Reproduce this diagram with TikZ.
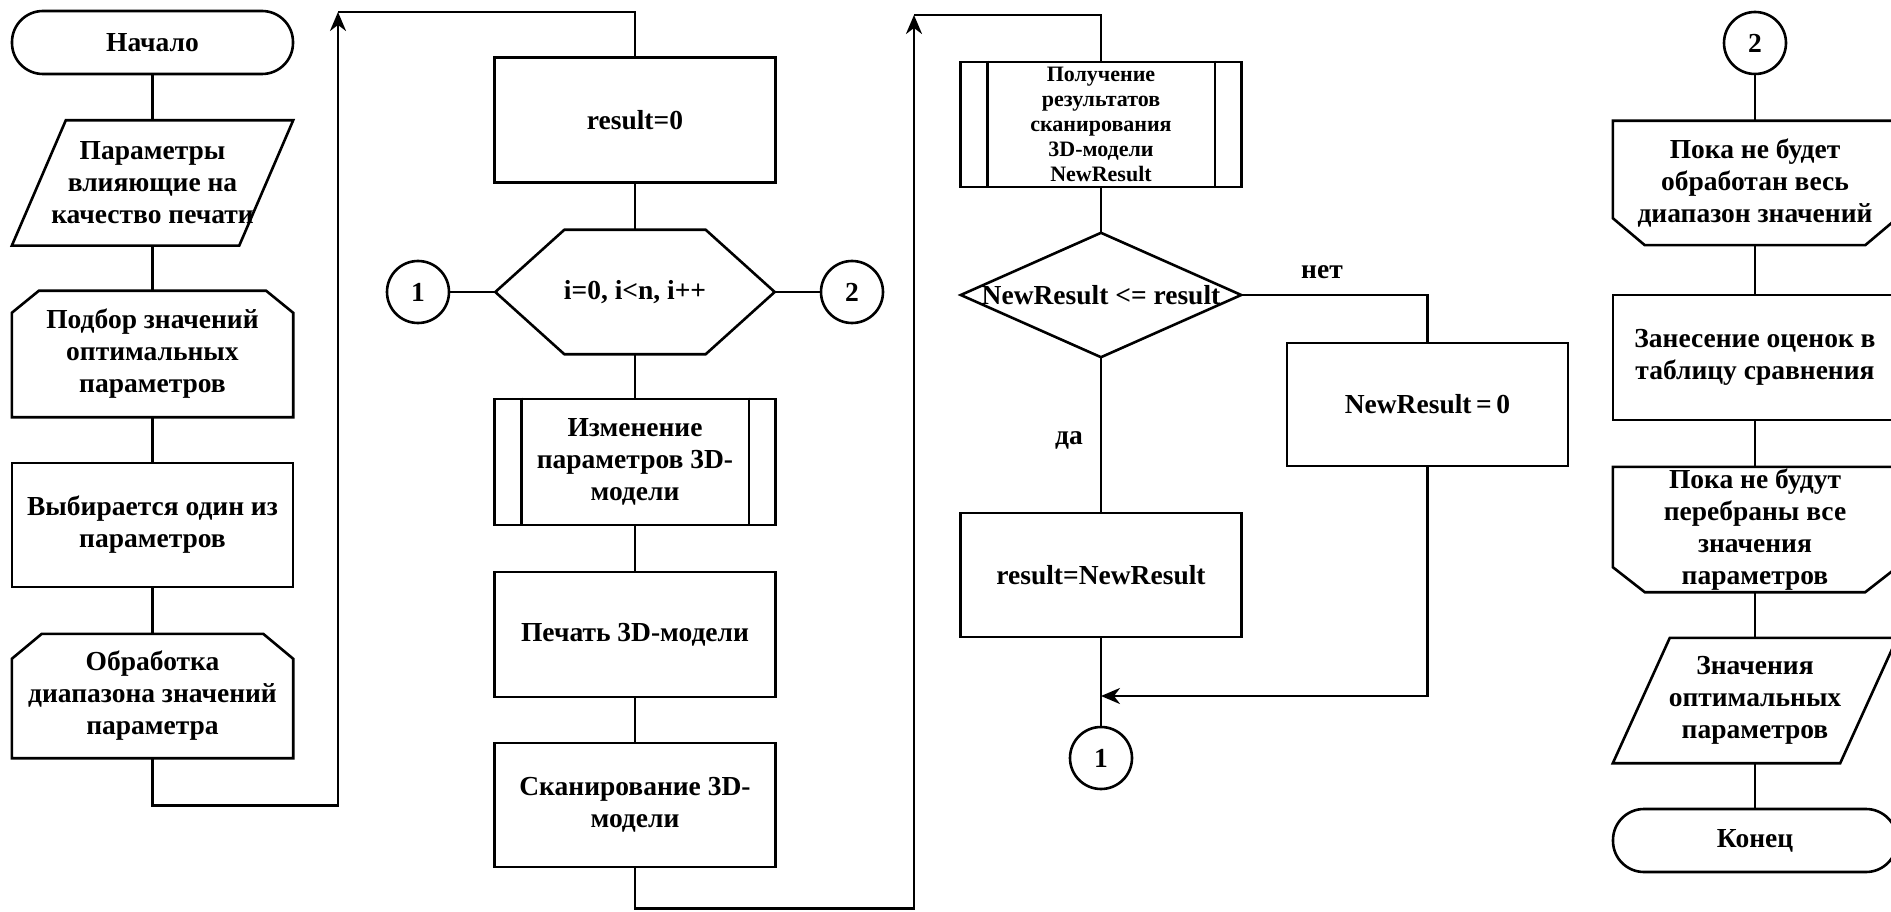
\documentclass[tikz,border=0pt]{standalone}
\usepackage{fontspec}
\setmainfont{Liberation Serif}
\usetikzlibrary{calc,arrows.meta}

\tikzset{
  ln/.style={line width=2.6pt, line join=miter},
  flow/.style={ln, -{Stealth[length=19pt,width=16pt,inset=6pt]}},
  txt/.style={font=\bfseries\fontsize{27.5}{32}\selectfont, align=center, inner sep=0pt},
  small/.style={font=\bfseries\fontsize{22}{25}\selectfont},
  shapebox/.style={txt, rectangle, minimum width=281pt, minimum height=125pt},
  procbox/.style={shapebox, draw, ln},
  term/.style={txt, draw, ln, rectangle, rounded corners=31pt, minimum width=281pt, minimum height=63pt},
  conn/.style={txt, draw, ln, circle, minimum size=62pt},
  lbl/.style={txt},
}

\begin{document}
\begin{tikzpicture}[x=1pt, y=-1pt]
\useasboundingbox (0,0) rectangle (1891,912);
\fill[white] (0,0) rectangle (1891,912);
\clip (0,0) rectangle (1891,912);

% ---------- column 1: preparation ----------
\node[term] (start) at (152.5,42.5) {Начало};
\node[shapebox] (par1) at (152.5,183) {Параметры\\влияющие на\\качество печати};
\node[shapebox, minimum height=126pt] (pod) at (152.5,354) {Подбор значений\\оптимальных\\параметров};
\node[procbox, minimum height=124pt] (vyb) at (152.5,525) {Выбирается один из\\параметров};
\node[shapebox, minimum height=124pt] (obr) at (152.5,696) {Обработка\\диапазона значений\\параметра};

% parallelogram (input data)
\draw[ln] ($(par1.north west)+(54,0)$) -- (par1.north east)
  -- ($(par1.south east)-(54,0)$) -- (par1.south west) -- cycle;
% loop begin (chamfered top corners)
\draw[ln] (pod.south west) -- ($(pod.north west)+(0,22)$) -- ($(pod.north west)+(27,0)$)
  -- ($(pod.north east)-(27,0)$) -- ($(pod.north east)+(0,22)$) -- (pod.south east) -- cycle;
\draw[ln] (obr.south west) -- ($(obr.north west)+(0,25)$) -- ($(obr.north west)+(30,0)$)
  -- ($(obr.north east)-(30,0)$) -- ($(obr.north east)+(0,25)$) -- (obr.south east) -- cycle;

\draw[ln] (start.south) -- (par1.north);
\draw[ln] (par1.south) -- (pod.north);
\draw[ln] (pod.south) -- (vyb.north);
\draw[ln] (vyb.south) -- (obr.north);

% ---------- column 2: loop over i ----------
\node[procbox] (res0) at (635,120) {result=0};
\node[shapebox, minimum width=279pt, minimum height=124pt] (hex) at (635,292) {i=0, i<n, i++};
\node[conn] (c1a) at (418,292) {1};
\node[conn] (c2a) at (852,292) {2};
\node[procbox, minimum height=126pt] (izm) at (635,462) {Изменение\\параметров 3D-\\модели};
\node[procbox] (pech) at (635,634.5) {Печать 3D-модели};
\node[procbox, minimum height=124pt] (scan) at (635,805) {Сканирование 3D-\\модели};

\draw[ln] (hex.west) -- ($(hex.north west)+(69,0)$) -- ($(hex.north east)-(69,0)$)
  -- (hex.east) -- ($(hex.south east)-(69,0)$) -- ($(hex.south west)+(69,0)$) -- cycle;
\draw[ln] ($(izm.north west)+(28,0)$) -- ($(izm.south west)+(28,0)$);
\draw[ln] ($(izm.north east)-(28,0)$) -- ($(izm.south east)-(28,0)$);

\draw[ln] (res0.south) -- (hex.north);
\draw[ln] (c1a.east) -- (hex.west);
\draw[ln] (hex.east) -- (c2a.west);
\draw[ln] (hex.south) -- (izm.north);
\draw[ln] (izm.south) -- (pech.north);
\draw[ln] (pech.south) -- (scan.north);

% transfer from column 1 to column 2
\coordinate (up1) at (338,12);
\draw[flow] (obr.south) -- ++(0,47) -| (up1);
\draw[ln] (up1) -| (res0.north);

% ---------- column 3: comparison ----------
\node[procbox] (pol) at (1101,124.5) {};
\node[small, align=center, inner sep=0pt] (poltxt) at (pol.center) {Получение\\результатов\\сканирования\\3D-модели\\NewResult};
\draw[ln] ($(pol.north west)+(28,0)$) -- ($(pol.south west)+(28,0)$);
\draw[ln] ($(pol.north east)-(28,0)$) -- ($(pol.south east)-(28,0)$);

\node[shapebox, minimum width=280pt, minimum height=124pt] (dia) at (1101,295) {NewResult <= result};
\draw[ln] (dia.west) -- (dia.north) -- (dia.east) -- (dia.south) -- cycle;

\node[procbox, minimum height=123pt] (nr0) at (1427.5,404.5) {NewResult\,=\,0};
\node[procbox, minimum height=124pt] (rnr) at (1101,575) {result=NewResult};
\node[conn] (c1b) at (1101,758) {1};
\node[lbl] (no) at (1322,272) {нет};
\node[lbl] (yes) at (1069,440) {да};

\draw[ln] (pol.south) -- (dia.north);
\draw[ln] (dia.east) -| (nr0.north);
\draw[ln] (dia.south) -- (rnr.north);
\draw[ln] (rnr.south) -- (c1b.north);
\coordinate (mrg) at (1101,696);
\draw[flow] (nr0.south) |- (mrg);

% transfer from column 2 to column 3
\coordinate (up2) at (914,15);
\draw[flow] (scan.south) -- ++(0,40) -| (up2);
\draw[ln] (up2) -| (pol.north);

% ---------- column 4: loop ends and output ----------
\node[conn] (c2b) at (1755,43) {2};
\node[shapebox, minimum width=284pt, minimum height=124pt] (w1) at (1755,183) {Пока не будет\\обработан весь\\диапазон значений};
\node[procbox, minimum width=284pt] (zan) at (1755,357.5) {Занесение оценок в\\таблицу сравнения};
\node[shapebox, minimum width=284pt] (w2) at (1755,529.5) {Пока не будут\\перебраны все\\значения\\параметров};
\node[shapebox, minimum width=284pt] (zn) at (1755,700.5) {Значения\\оптимальных\\параметров};
\node[term, minimum width=284pt] (fin) at (1755,840.5) {Конец};

% loop end (chamfered bottom corners)
\draw[ln] (w1.north west) -- (w1.north east) -- ($(w1.south east)-(0,27)$)
  -- ($(w1.south east)-(32,0)$) -- ($(w1.south west)+(32,0)$) -- ($(w1.south west)-(0,27)$) -- cycle;
\draw[ln] (w2.north west) -- (w2.north east) -- ($(w2.south east)-(0,25)$)
  -- ($(w2.south east)-(32,0)$) -- ($(w2.south west)+(32,0)$) -- ($(w2.south west)-(0,25)$) -- cycle;
% parallelogram (output data)
\draw[ln] ($(zn.north west)+(57,0)$) -- (zn.north east)
  -- ($(zn.south east)-(57,0)$) -- (zn.south west) -- cycle;

\draw[ln] (c2b.south) -- (w1.north);
\draw[ln] (w1.south) -- (zan.north);
\draw[ln] (zan.south) -- (w2.north);
\draw[ln] (w2.south) -- (zn.north);
\draw[ln] (zn.south) -- (fin.north);
\end{tikzpicture}
\end{document}
